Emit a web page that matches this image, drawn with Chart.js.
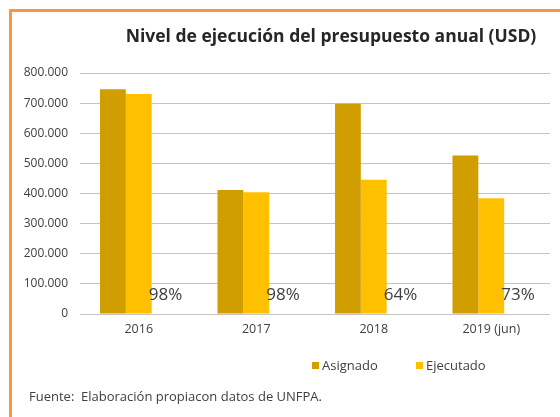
<!DOCTYPE html>
<html>
<head>
<meta charset="utf-8">
<script src="https://cdn.jsdelivr.net/npm/chart.js@4"></script>
<style>
  body { margin: 0; background: #fff; font-family: "Open Sans", sans-serif; }
  #wrap { position: relative; width: 560px; height: 417px; overflow: hidden; }
  #frame { position: absolute; left: 9px; top: 9px; right: -10px; bottom: -10px;
           border-left: 3px solid #F79646; border-top: 3px solid #F79646; }
  canvas { position: absolute; left: 0; top: 0; }
  #titulo { position: absolute; left: 100px; width: 462px; top: 24px; text-align: center;
            font-size: 17.5px; font-weight: bold; line-height: 22px; color: #262626; }
  .leg { position: absolute; top: 357px; font-size: 13px; color: #404040; line-height: 16px; }
  .leg i { display: inline-block; width: 7px; height: 7px; margin-right: 3px; vertical-align: 1px; }
  #fuente { position: absolute; left: 29px; top: 387px; font-size: 13px; color: #404040; }
</style>
</head>
<body>
<div id="wrap">
  <div id="frame"></div>
  <canvas id="budgetChart" width="560" height="417"></canvas>
  <div id="titulo">Nivel de ejecución del presupuesto anual (USD)</div>
  <div class="leg" id="leg0" style="left:312px"></div>
  <div class="leg" id="leg1" style="left:416px"></div>
  <div id="fuente">Fuente:&nbsp; Elaboración propiacon datos de UNFPA.</div>
</div>
<script>
    // --- DATA ---
    const years = ['2016', '2017', '2018', '2019 (jun)'];
    const asignado = [746000, 412000, 698000, 526000];
    const ejecutado = [730000, 404000, 446000, 384000];
    const porcentaje = [98, 98, 64, 73];   // % ejecutado, shown as label only
    const yTicks = [0, 100000, 200000, 300000, 400000, 500000, 600000, 700000, 800000];

    const colors = ['#D19E00', '#FFC000'];
    const names = ['Asignado', 'Ejecutado'];

    const fmt = v => String(v).replace(/\B(?=(\d{3})+(?!\d))/g, '.');

    // percent labels drawn over the invisible third series
    const pctLabels = {
        id: 'pctLabels',
        afterDatasetsDraw(chart) {
            const meta = chart.getDatasetMeta(2);
            const c = chart.ctx;
            c.save();
            c.font = '17px "Open Sans"';
            c.fillStyle = '#404040';
            c.textAlign = 'center';
            c.textBaseline = 'middle';
            meta.data.forEach((bar, i) => {
                c.fillText(porcentaje[i] + '%', bar.x + 1, bar.y - 19);
            });
            c.restore();
        }
    };

    // --- CHART ---
    const ctx = document.getElementById('budgetChart').getContext('2d');
    const budgetChart = new Chart(ctx, {
        type: 'bar',
        data: {
            labels: years,
            datasets: [
                { label: names[0], data: asignado, backgroundColor: colors[0] },
                { label: names[1], data: ejecutado, backgroundColor: colors[1] },
                { label: '%', data: porcentaje, backgroundColor: 'rgba(0,0,0,0)' }
            ]
        },
        options: {
            responsive: false,
            animation: false,
            categoryPercentage: 0.66,
            barPercentage: 1,
            layout: { padding: { top: 73, right: 10, left: 0, bottom: 80 } },
            scales: {
                x: {
                    grid: { display: false },
                    border: { display: false },
                    ticks: { color: '#404040', font: { family: 'Open Sans', size: 12.5 }, padding: 0 }
                },
                y: {
                    min: 0, max: 800000,
                    afterBuildTicks: s => { s.ticks = yTicks.map(v => ({ value: v })); },
                    afterFit: s => { s.width = 80; },
                    grid: { color: '#C4C4C4', drawTicks: false },
                    border: { display: false },
                    ticks: { color: '#404040', font: { family: 'Open Sans', size: 12 }, padding: 12, callback: v => fmt(v) }
                }
            },
            plugins: {
                legend: { display: false },
                tooltip: { enabled: false }
            }
        },
        plugins: [pctLabels]
    });

    // legend from dataset names/colours
    names.forEach((n, i) => {
        document.getElementById('leg' + i).innerHTML = '<i style="background:' + colors[i] + '"></i>' + n;
    });
</script>
</body>
</html>
